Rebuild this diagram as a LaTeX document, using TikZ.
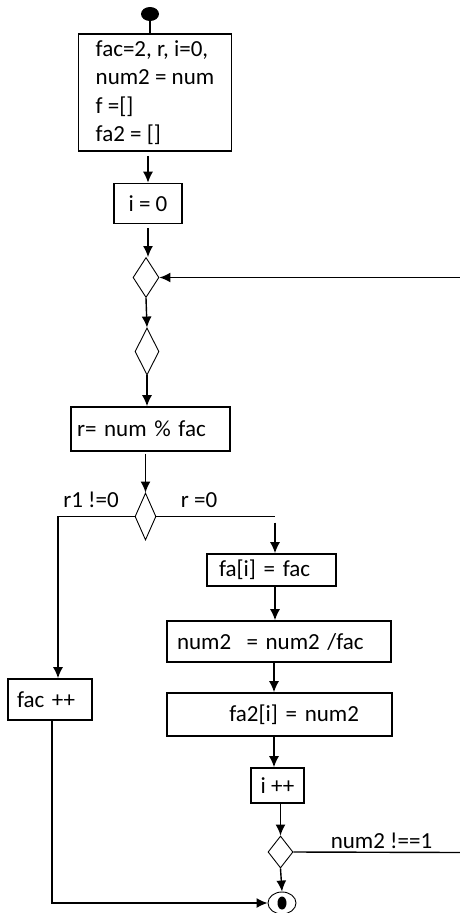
\documentclass[tikz,border=0pt]{standalone}
\usepackage{fontspec}
\setmainfont{Carlito}
\usetikzlibrary{arrows.meta,shapes.geometric}

\tikzset{
  stepbox/.style={draw, rectangle, line width=1.6pt, inner xsep=0pt, inner ysep=0pt},
  test/.style={draw, diamond, line width=0.9pt, inner sep=0pt},
  flow/.style={line width=1.4pt},
}

\begin{document}
\begin{tikzpicture}[x=1pt,y=-1pt,>={Latex[length=11pt,width=10pt]},
  every node/.style={font=\fontsize{23}{28.5}\selectfont}]
\useasboundingbox (0,0) rectangle (460,913);

% boxes
\node[fill, ellipse, minimum width=18pt, minimum height=14pt, inner sep=0pt] (start) at (150,14) {};
\node[stepbox, minimum width=153pt, minimum height=117pt, align=left] (init) at (155,92.5)
  {fac=2, r, i=0,\\num2 = num\\f =[]\\fa2 = []};
\node[stepbox, minimum width=68pt, minimum height=40pt] (izero) at (148,203.5) {i = 0};
\node[test, minimum width=26pt, minimum height=40pt] (d1) at (146,277.5) {};
\node[test, minimum width=24pt, minimum height=47pt] (d2) at (147,351.5) {};
\node[stepbox, minimum width=159pt, minimum height=44pt, text width=147pt, align=left] (calc) at (150.5,429) {r= num \% fac};
\node[test, minimum width=21pt, minimum height=47pt] (d3) at (145.5,516.5) {};
\node[stepbox, minimum width=129pt, minimum height=32pt, text width=105pt, align=left] (fa) at (271.5,570) {fa[i] = fac};
\node[stepbox, minimum width=224pt, minimum height=41pt, text width=204pt, align=left] (div) at (279,641.5) {num2~ = num2 /fac};
\node[stepbox, minimum width=225pt, minimum height=43pt, text width=159pt, align=right] (fatwo) at (279.5,714.5) {fa2[i] = num2};
\node[stepbox, minimum width=53pt, minimum height=35pt] (inc) at (277.5,785.5) {i ++};
\node[test, minimum width=25pt, minimum height=32pt] (d4) at (280.5,852) {};
\node[stepbox, minimum width=84pt, minimum height=41pt, text width=66pt, align=left] (facinc) at (50,699.5) {fac ++};
\node[draw, ellipse, line width=0.9pt, minimum width=28pt, minimum height=22pt, inner sep=0pt] (stop) at (282,903) {};
\fill (stop.center) ellipse (4.5pt and 6.5pt);

% labels
\node (ne) at (91,500) {r1 !=0};
\node (eq) at (199,500) {r =0};
\node (ndone) at (381.5,841) {num2 !==1};

\coordinate (rsplit) at (275,516.5);
\coordinate (rcol) at (274,0);
\coordinate (loopT) at (460,277.5);
\coordinate (loopR) at (460,852.5);

% connectors
\draw[flow] (start.south) -- (start.south |- init.north);
\draw[flow,->] ([yshift=-4pt]init.south -| izero.north) -- (izero.north);
\draw[flow,->] ([yshift=-4pt]izero.south) -- (izero.south |- d1.north);
\draw[flow,->] (d1.south) -- (d2.north);
\draw[flow,->] (d2.south) -- (d2.south |- calc.north);
\draw[flow,->] ([yshift=-2pt]calc.south -| d3.north) -- (d3.north);
\draw[flow,->] (d3.west) -| ([xshift=8pt]facinc.north);
\draw[flow] (d3.east) -- (rsplit);
\draw[flow,->] ([yshift=-6pt]rsplit) -- (rsplit |- fa.north);
\draw[flow,->] (fa.south -| rsplit) -- (div.north -| rsplit);
\draw[flow,->] (div.south -| rcol) -- (fatwo.north -| rcol);
\draw[flow,->] (fatwo.south -| rcol) -- (inc.north -| rcol);
\draw[flow,->] (inc.south -| d4.north) -- (d4.north);
\draw[flow,->] (d4.south) -- (stop.north);
\draw[flow] (d4.east) -- (loopR);
\draw[flow,->] (loopT) -- (d1.east);
\draw[flow,->] ([xshift=2pt]facinc.south) |- (stop.west);
\end{tikzpicture}
\end{document}
